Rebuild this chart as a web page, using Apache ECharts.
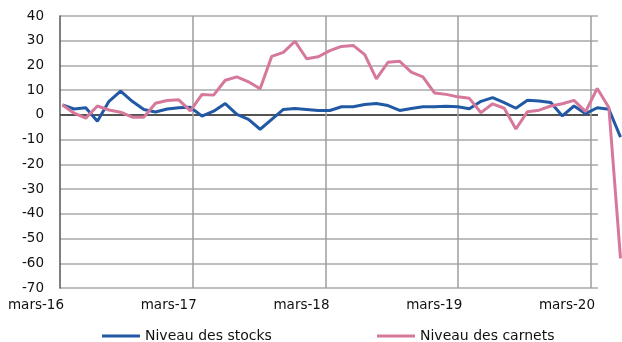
<!DOCTYPE html>
<html>
<head>
<meta charset="utf-8">
<script src="https://cdn.jsdelivr.net/npm/echarts@6/dist/echarts.min.js"></script>
<style>
  html, body { margin: 0; padding: 0; background: #ffffff; }
  #chart { width: 622px; height: 342px; }
</style>
</head>
<body>
<div id="chart"></div>
<script>
// Monthly survey balances, March 2016 to March 2020
const months = [
  '2016-03','2016-04','2016-05','2016-06','2016-07','2016-08','2016-09','2016-10','2016-11','2016-12',
  '2017-01','2017-02','2017-03','2017-04','2017-05','2017-06','2017-07','2017-08','2017-09','2017-10',
  '2017-11','2017-12','2018-01','2018-02','2018-03','2018-04','2018-05','2018-06','2018-07','2018-08',
  '2018-09','2018-10','2018-11','2018-12','2019-01','2019-02','2019-03','2019-04','2019-05','2019-06',
  '2019-07','2019-08','2019-09','2019-10','2019-11','2019-12','2020-01','2020-02','2020-03'
];

const stocks = [
  4.0, 2.4, 2.9, -2.6, 5.5, 9.6, 5.5, 2.2, 1.2, 2.4,
  2.9, 3.1, -0.5, 1.5, 4.6, 0.2, -1.8, -5.8, -1.8, 2.2,
  2.6, 2.2, 1.8, 1.8, 3.3, 3.3, 4.2, 4.6, 3.8, 1.8,
  2.6, 3.3, 3.3, 3.5, 3.3, 2.5, 5.5, 7.0, 5.0, 2.7,
  5.9, 5.6, 5.0, -0.4, 3.6, 0.5, 2.9, 2.3, -9.0
];

const carnets = [
  4.0, 0.7, -1.3, 3.6, 2.0, 1.1, -0.9, -0.9, 4.7, 5.8,
  6.1, 1.6, 8.3, 8.0, 14.0, 15.4, 13.4, 10.6, 23.7, 25.3,
  29.8, 22.7, 23.5, 26.0, 27.7, 28.1, 24.4, 14.6, 21.3, 21.7,
  17.3, 15.4, 8.9, 8.3, 7.3, 6.7, 0.9, 4.5, 2.7, -5.7,
  1.3, 1.9, 3.6, 4.5, 5.9, 1.3, 10.7, 3.0, -58.0
];

const yearTicks = ['mars-16', 'mars-17', 'mars-18', 'mars-19', 'mars-20'];
const seriesNames = ['Niveau des stocks', 'Niveau des carnets'];

const FONT = 'DejaVu Sans';
const GRID_COLOR = '#a8a8a8';
const BLUE = '#2159a5';
const PINK = '#d6779c';

// one grid carries the axes and gridlines, the other carries the monthly points
const yMin = -70, yMax = 40, yStep = 10;
const yLineColors = [];
for (let v = yMin; v <= yMax; v += yStep) yLineColors.push(v === 0 ? '#1a1a1a' : GRID_COLOR);

const chart = echarts.init(document.getElementById('chart'), null, { renderer: 'canvas' });
chart.setOption({
  animation: false,
  backgroundColor: '#ffffff',
  grid: [
    { left: 60, right: 0, top: 16, bottom: 54 },
    { left: 62.5, right: 1.5, top: 16, bottom: 54 }
  ],
  xAxis: [
    {
      gridIndex: 0,
      type: 'value',
      min: 0,
      max: 48.63,
      interval: 12,
      axisLine: { show: false },
      axisTick: { show: false },
      splitLine: {
        show: true,
        showMinLine: false,
        showMaxLine: false,
        lineStyle: { color: '#9c9c9c', width: 1.5 }
      },
      axisLabel: {
        margin: 10,
        showMaxLabel: false,
        formatter: function (v) {
          const k = Math.round(v / 12);
          if (Math.abs(v - k * 12) > 1e-6 || !yearTicks[k]) return '';
          return '{t|' + yearTicks[k] + '}{s|}';
        },
        rich: {
          t: { fontFamily: FONT, fontSize: 13.5, color: '#111111' },
          s: { width: 48 }
        }
      }
    },
    {
      gridIndex: 1,
      type: 'category',
      data: months,
      boundaryGap: false,
      show: false
    }
  ],
  yAxis: [
    {
      gridIndex: 0,
      type: 'value',
      min: yMin,
      max: yMax,
      interval: yStep,
      axisLine: { show: true, lineStyle: { color: '#555555', width: 1.5 } },
      axisTick: { show: false },
      axisLabel: { margin: 16, fontFamily: FONT, fontSize: 13.5, color: '#111111' },
      splitLine: { show: true, lineStyle: { color: yLineColors, width: 1.5 } }
    },
    {
      gridIndex: 1,
      type: 'value',
      min: yMin,
      max: yMax,
      show: false
    }
  ],
  legend: [
    {
      data: [seriesNames[0]],
      left: 102, top: 329, padding: 0,
      icon: 'rect', itemWidth: 38, itemHeight: 3,
      textStyle: { fontFamily: FONT, fontSize: 14, color: '#111111' }
    },
    {
      data: [seriesNames[1]],
      left: 377, top: 329, padding: 0,
      icon: 'rect', itemWidth: 38, itemHeight: 3,
      textStyle: { fontFamily: FONT, fontSize: 14, color: '#111111' }
    }
  ],
  series: [
    {
      name: seriesNames[0],
      type: 'line',
      xAxisIndex: 1,
      yAxisIndex: 1,
      data: stocks,
      symbol: 'none',
      color: BLUE,
      lineStyle: { color: BLUE, width: 3 }
    },
    {
      name: seriesNames[1],
      type: 'line',
      xAxisIndex: 1,
      yAxisIndex: 1,
      data: carnets,
      symbol: 'none',
      color: PINK,
      lineStyle: { color: PINK, width: 3 }
    }
  ]
});
</script>
</body>
</html>
